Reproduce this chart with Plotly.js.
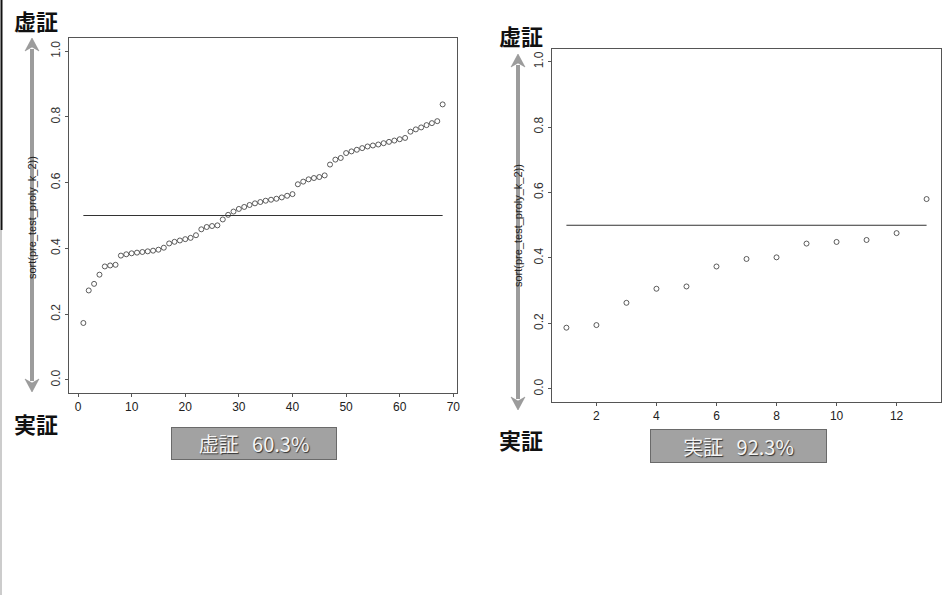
<!DOCTYPE html>
<html>
<head>
<meta charset="utf-8">
<script src="https://cdn.plot.ly/plotly-3.0.1.min.js"></script>
<style>html,body{margin:0;padding:0;background:#fff;}#chart{width:952px;height:598px;}</style>
</head>
<body>
<div id="chart"></div>
<script>
// ---- data ----
const leftIndex = [1,2,3,4,5,6,7,8,9,10,11,12,13,14,15,16,17,18,19,20,21,22,23,24,25,26,27,28,29,30,31,32,33,34,35,36,37,38,39,40,41,42,43,44,45,46,47,48,49,50,51,52,53,54,55,56,57,58,59,60,61,62,63,64,65,66,67,68];
const leftValues = [0.173,0.272,0.292,0.320,0.345,0.348,0.350,0.378,0.382,0.385,0.387,0.389,0.391,0.393,0.396,0.402,0.415,0.420,0.424,0.428,0.432,0.440,0.458,0.465,0.468,0.470,0.488,0.502,0.512,0.520,0.526,0.532,0.537,0.541,0.545,0.548,0.551,0.555,0.560,0.565,0.595,0.603,0.610,0.614,0.617,0.622,0.655,0.670,0.675,0.690,0.695,0.700,0.705,0.710,0.713,0.716,0.720,0.724,0.728,0.732,0.736,0.755,0.762,0.768,0.775,0.781,0.787,0.838];
const rightIndex = [1,2,3,4,5,6,7,8,9,10,11,12,13];
const rightValues = [0.187,0.195,0.263,0.306,0.313,0.374,0.397,0.402,0.444,0.449,0.455,0.476,0.580];
const threshold = 0.5;
const leftXTicks = [0,10,20,30,40,50,60,70];
const rightXTicks = [2,4,6,8,10,12];
const yTicks = [0,0.2,0.4,0.6,0.8,1.0];
const yTickText = ["0.0","0.2","0.4","0.6","0.8","1.0"];
const yTitle = "sort(pre_test_proly_k_2))";
const labelTop = "虚証";
const labelBottom = "実証";
const leftResult = "虚証\u00a0\u00a0\u00a060.3%";
const rightResult = "実証\u00a0\u00a0\u00a092.3%";

// ---- layout helpers (pixel -> paper) ----
const W = 952, H = 598;
const px = x => x / W;
const py = y => 1 - y / H;

const markerStyle = {symbol: 'circle-open', size: 5, color: '#333', line: {width: 0.8, color: '#333'}};
const traces = [
  {x: leftIndex, y: leftValues, type: 'scatter', mode: 'markers', marker: markerStyle, xaxis: 'x', yaxis: 'y', hoverinfo: 'none'},
  {x: [leftIndex[0], leftIndex[leftIndex.length-1]], y: [threshold, threshold], type: 'scatter', mode: 'lines', line: {color: '#333', width: 1}, xaxis: 'x', yaxis: 'y'},
  {x: rightIndex, y: rightValues, type: 'scatter', mode: 'markers', marker: markerStyle, xaxis: 'x2', yaxis: 'y2', hoverinfo: 'none'},
  {x: [rightIndex[0], rightIndex[rightIndex.length-1]], y: [threshold, threshold], type: 'scatter', mode: 'lines', line: {color: '#333', width: 1}, xaxis: 'x2', yaxis: 'y2'}
];

function xAxis(domain, range, ticks, anchor) {
  return {domain, range, tickvals: ticks, ticktext: ticks.map(String), anchor,
    showline: true, mirror: true, linecolor: '#555', linewidth: 1, showgrid: false, zeroline: false,
    ticks: 'outside', ticklen: 3, tickcolor: '#555', tickfont: {family: 'Liberation Sans, Arial, sans-serif', size: 12, color: '#222'}};
}
function yAxis(domain, anchor) {
  return {domain, range: [-0.04, 1.04], tickvals: yTicks, ticktext: yTickText, anchor, tickangle: -90,
    showline: true, mirror: true, linecolor: '#555', linewidth: 1, showgrid: false, zeroline: false,
    ticks: 'outside', ticklen: 3, tickcolor: '#555', tickfont: {family: 'Liberation Sans, Arial, sans-serif', size: 12, color: '#333'}};
}

const arrowColor = '#9c9c9c';
function arrowShapes(x, yTop, yBot) {
  const hw = 7, hh = 13;
  return [
    {type: 'line', xref: 'paper', yref: 'paper', x0: px(x), x1: px(x), y0: py(yTop + hh - 2), y1: py(yBot - hh + 2), line: {color: arrowColor, width: 4}},
    {type: 'path', xref: 'paper', yref: 'paper',
     path: `M ${px(x)} ${py(yTop)} L ${px(x-hw)} ${py(yTop+hh)} L ${px(x)} ${py(yTop+hh-4)} L ${px(x+hw)} ${py(yTop+hh)} Z`,
     fillcolor: arrowColor, line: {color: '#888', width: 0.5}},
    {type: 'path', xref: 'paper', yref: 'paper',
     path: `M ${px(x)} ${py(yBot)} L ${px(x-hw)} ${py(yBot-hh)} L ${px(x)} ${py(yBot-hh+4)} L ${px(x+hw)} ${py(yBot-hh)} Z`,
     fillcolor: arrowColor, line: {color: '#888', width: 0.5}}
  ];
}

const cjk = 'Noto Sans CJK JP, sans-serif';
function label(text, x, y) {
  return {text, x: px(x), y: py(y), xref: 'paper', yref: 'paper', showarrow: false,
    font: {family: cjk, size: 22, color: '#111', weight: 'bold'}, xanchor: 'center', yanchor: 'middle'};
}
function resultBox(text, x, y, w, h) {
  return {text, x: px(x), y: py(y), xref: 'paper', yref: 'paper', showarrow: false,
    width: w, height: h, bgcolor: '#a2a2a2', bordercolor: '#6a6a6a', borderwidth: 1, borderpad: 0,
    font: {family: cjk + ', Liberation Sans', size: 20, color: '#f4f4f4', shadow: '1px 1px 1px #333'},
    xanchor: 'center', yanchor: 'middle', align: 'center', valign: 'middle'};
}
function yTitleAnn(x, y) {
  return {text: yTitle, x: px(x), y: py(y), xref: 'paper', yref: 'paper', showarrow: false, textangle: -90,
    font: {family: 'Liberation Sans, Arial, sans-serif', size: 11, color: '#222'}, xanchor: 'center', yanchor: 'middle'};
}

const layout = {
  width: W, height: H, margin: {l: 0, r: 0, t: 0, b: 0}, showlegend: false,
  paper_bgcolor: '#fff', plot_bgcolor: '#fff',
  xaxis: xAxis([px(69), px(457)], [-1.68, 70.68], leftXTicks, 'y'),
  yaxis: yAxis([py(393), py(38)], 'x'),
  xaxis2: xAxis([px(552), px(941)], [0.52, 13.48], rightXTicks, 'y2'),
  yaxis2: yAxis([py(402), py(48.5)], 'x2'),
  shapes: [
    ...arrowShapes(32, 38, 392),
    ...arrowShapes(518, 54, 410),
    {type: 'line', xref: 'paper', yref: 'paper', x0: px(1.5), x1: px(1.5), y0: py(0), y1: py(230), line: {color: '#111', width: 2}},
    {type: 'line', xref: 'paper', yref: 'paper', x0: px(1), x1: px(1), y0: py(230), y1: py(595), line: {color: '#999', width: 1}}
  ],
  annotations: [
    yTitleAnn(32, 218),
    yTitleAnn(518, 226),
    label(labelTop, 36, 20),
    label(labelBottom, 36, 423),
    label(labelTop, 521, 35),
    label(labelBottom, 521, 439),
    resultBox(leftResult, 253.5, 444, 164, 31),
    resultBox(rightResult, 738, 445.5, 175, 32)
  ]
};

Plotly.newPlot('chart', traces, layout, {staticPlot: true, displayModeBar: false});
</script>
</body>
</html>
